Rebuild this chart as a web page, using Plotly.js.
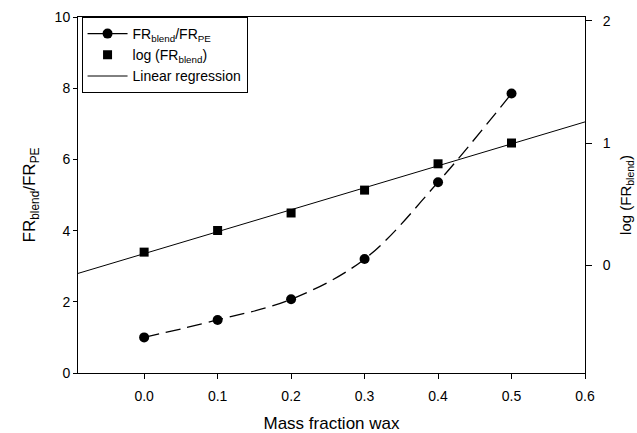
<!DOCTYPE html>
<html>
<head>
<meta charset="utf-8">
<script src="https://cdn.plot.ly/plotly-3.0.1.min.js"></script>
<style>html,body{margin:0;padding:0;background:#fff;}#chart{width:637px;height:433px;}</style>
</head>
<body>
<div id="chart"></div>
<script>
// Data
const massFraction = [0.0, 0.1, 0.2, 0.3, 0.4, 0.5];
const frRatio = [1.0, 1.49, 2.07, 3.2, 5.36, 7.85];
const logFrBlend = [0.108, 0.285, 0.428, 0.615, 0.83, 1.0];
const xRange = [-0.09, 0.6];

// Least-squares linear regression of log(FR_blend) on mass fraction
function linreg(xs, ys) {
  const n = xs.length;
  const mx = xs.reduce((a, b) => a + b, 0) / n;
  const my = ys.reduce((a, b) => a + b, 0) / n;
  let sxy = 0, sxx = 0;
  for (let i = 0; i < n; i++) { sxy += (xs[i] - mx) * (ys[i] - my); sxx += (xs[i] - mx) ** 2; }
  const slope = sxy / sxx;
  return { slope: slope, intercept: my - slope * mx };
}
const fit = linreg(massFraction, logFrBlend);
const regX = xRange.slice();
const regY = regX.map(x => fit.intercept + fit.slope * x);

const FONT = 'Liberation Sans, Arial, sans-serif';

const traces = [
  { x: regX, y: regY, yaxis: 'y2', mode: 'lines', line: { color: '#000', width: 1 }, showlegend: false, hoverinfo: 'skip' },
  { x: massFraction, y: frRatio, mode: 'lines+markers', line: { color: '#000', width: 1.3, dash: '15px,7px', shape: 'spline' },
    marker: { symbol: 'circle', size: 10, color: '#000' }, showlegend: false },
  { x: massFraction, y: logFrBlend, yaxis: 'y2', mode: 'markers', marker: { symbol: 'square', size: 9, color: '#000' }, showlegend: false },
  // legend entries
  { x: [null], y: [null], mode: 'lines+markers', name: 'FR<sub>blend</sub>/FR<sub>PE</sub>',
    line: { color: '#000', width: 1.3 }, marker: { symbol: 'circle', size: 10, color: '#000' } },
  { x: [null], y: [null], mode: 'markers', name: 'log (FR<sub>blend</sub>)', marker: { symbol: 'square', size: 9, color: '#000' } },
  { x: [null], y: [null], mode: 'lines', name: 'Linear regression', line: { color: '#000', width: 1 } }
];

const layout = {
  width: 637, height: 433,
  margin: { l: 78, r: 52, t: 17, b: 60 },
  paper_bgcolor: '#fff', plot_bgcolor: '#fff',
  font: { family: FONT, color: '#000', size: 14 },
  showlegend: true,
  legend: {
    x: 0.007, y: 1, xanchor: 'left', yanchor: 'top',
    bordercolor: '#000', borderwidth: 1, bgcolor: '#fff',
    font: { family: FONT, size: 14, color: '#000' },
    itemwidth: 40,
    tracegroupgap: 0
  },
  xaxis: {
    range: xRange, tickvals: [0, 0.1, 0.2, 0.3, 0.4, 0.5, 0.6], ticktext: ['0.0','0.1','0.2','0.3','0.4','0.5','0.6'],
    showgrid: false, zeroline: false, showline: true, linecolor: '#000', linewidth: 1, mirror: true,
    ticks: 'outside', ticklen: 5, tickcolor: '#000', ticklabelstandoff: 5,
    title: { text: 'Mass fraction wax', font: { size: 17 }, standoff: 16 }
  },
  yaxis: {
    range: [0, 10], tickvals: [0, 2, 4, 6, 8, 10],
    showgrid: false, zeroline: false, showline: true, linecolor: '#000', linewidth: 1,
    ticks: 'outside', ticklen: 4, tickcolor: '#000',
    title: { text: 'FR<sub>blend</sub>/FR<sub>PE</sub>', font: { size: 17 }, standoff: 14 }
  },
  yaxis2: {
    overlaying: 'y', side: 'right', range: [-0.88, 2.03], tickvals: [0, 1, 2],
    showgrid: false, zeroline: false, showline: true, linecolor: '#000', linewidth: 1,
    ticks: 'outside', ticklen: 6, tickcolor: '#000', ticklabelstandoff: 8,
    title: { text: 'log (FR<sub>blend</sub>)', font: { size: 15 }, standoff: 10 }
  }
};

Plotly.newPlot('chart', traces, layout, { displayModeBar: false, staticPlot: true });
</script>
</body>
</html>
